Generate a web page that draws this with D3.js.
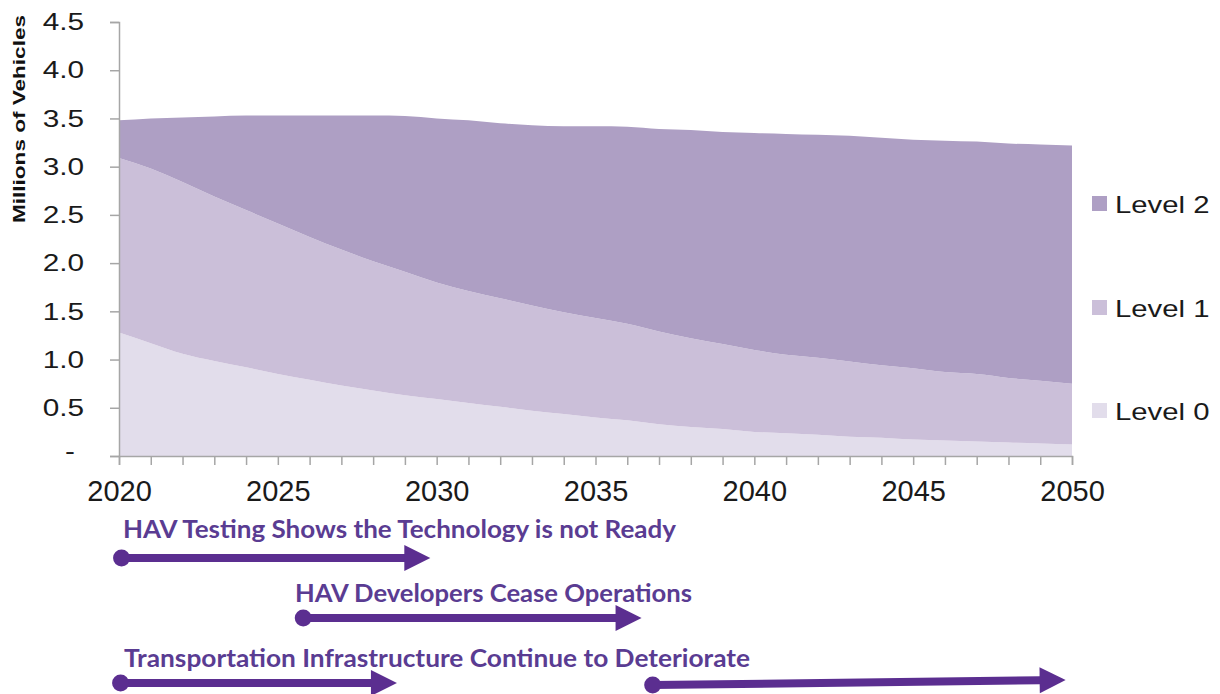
<!DOCTYPE html>
<html>
<head>
<meta charset="utf-8">
<script src="https://cdn.jsdelivr.net/npm/d3@7"></script>
<style>
  html, body { margin: 0; padding: 0; background: #ffffff; }
  svg { display: block; }
</style>
</head>
<body>
<svg id="chart" width="1220" height="694"></svg>
<script>
// Fleet composition by automation level, millions of vehicles
const years = [2020, 2021, 2022, 2023, 2024, 2025, 2026, 2027, 2028, 2029,
               2030, 2031, 2032, 2033, 2034, 2035, 2036, 2037, 2038, 2039,
               2040, 2041, 2042, 2043, 2044, 2045, 2046, 2047, 2048, 2049, 2050];

const level0 = [1.28, 1.17, 1.06, 0.985, 0.92, 0.85, 0.79, 0.73, 0.68, 0.63,
                0.59, 0.55, 0.51, 0.47, 0.435, 0.40, 0.37, 0.33, 0.30, 0.28,
                0.25, 0.235, 0.22, 0.20, 0.19, 0.17, 0.16, 0.15, 0.14, 0.13, 0.12];

const level1 = [1.81, 1.81, 1.78, 1.705, 1.63, 1.56, 1.48, 1.41, 1.34, 1.28,
                1.21, 1.16, 1.125, 1.09, 1.055, 1.03, 1.00, 0.96, 0.92, 0.88,
                0.85, 0.815, 0.80, 0.78, 0.75, 0.74, 0.71, 0.70, 0.67, 0.65, 0.63];

const level2 = [0.39, 0.52, 0.67, 0.83, 0.98, 1.12, 1.26, 1.39, 1.51, 1.615,
                1.70, 1.77, 1.815, 1.87, 1.93, 1.99, 2.045, 2.10, 2.16, 2.20,
                2.25, 2.29, 2.31, 2.34, 2.36, 2.37, 2.40, 2.41, 2.43, 2.45, 2.47];

const seriesNames = ["Level 0", "Level 1", "Level 2"];
const yTicks = [0, 0.5, 1.0, 1.5, 2.0, 2.5, 3.0, 3.5, 4.0, 4.5];
const xLabelYears = [2020, 2025, 2030, 2035, 2040, 2045, 2050];

// Timeline of scenario events (start year, end year)
const events = [
  { text: "HAV Testing Shows the Technology is not Ready", from: 2020.08, to: 2029.8 },
  { text: "HAV Developers Cease Operations", from: 2025.8, to: 2036.45 },
  { text: "Transportation Infrastructure Continue to Deteriorate", from: 2020.05, to: 2028.75 },
  { text: null, from: 2036.8, to: 2049.8 }
];

const colors = { "Level 0": "#e2ddeb", "Level 1": "#cbbfd9", "Level 2": "#ae9fc4" };
const arrowColor = "#5b2e90";
const eventTextColor = "#5a3c92";

const svg = d3.select("#chart");

const x = d3.scaleLinear().domain([2020, 2050]).range([119, 1072]);
const y = d3.scaleLinear().domain([0, 4.5]).range([456, 22]);

// stacked areas
const rows = years.map((yr, i) => ({
  year: yr, "Level 0": level0[i], "Level 1": level1[i], "Level 2": level2[i]
}));
const stacked = d3.stack().keys(seriesNames)(rows);

const area = d3.area()
  .x(d => x(d.data.year))
  .y0(d => y(d[0]))
  .y1(d => y(d[1]))
  .curve(d3.curveMonotoneX);

svg.append("g")
  .selectAll("path")
  .data(stacked)
  .join("path")
  .attr("d", area)
  .attr("fill", d => colors[d.key]);

// stretch text horizontally by a factor
function widen(sel, k) {
  sel.each(function () {
    const w = this.getComputedTextLength();
    d3.select(this).attr("textLength", w * k).attr("lengthAdjust", "spacingAndGlyphs");
  });
}

// y axis
const yAxis = d3.axisLeft(y)
  .tickValues(yTicks)
  .tickSize(9)
  .tickPadding(26)
  .tickFormat(d => d === 0 ? "-" : d3.format(".1f")(d));

const gy = svg.append("g").attr("transform", `translate(${x(2020)},0)`).call(yAxis);
gy.select(".domain").attr("stroke", "#a6a6a6").attr("stroke-width", 1.5);
gy.selectAll(".tick line").attr("stroke", "#a6a6a6").attr("stroke-width", 1.5);
gy.selectAll(".tick text")
  .attr("font-family", "'Liberation Sans', Arial, sans-serif")
  .attr("font-size", 24)
  .attr("fill", "#1a1a1a")
  .call(widen, 1.24);
gy.selectAll(".tick text").filter(d => d === 0).attr("dx", -9).attr("dy", "0.1em");

// x axis: yearly ticks, labels every five years
const xAxis = d3.axisBottom(x)
  .tickValues(years)
  .tickSize(9)
  .tickPadding(15)
  .tickFormat(d => xLabelYears.includes(d) ? String(d) : "");

const gx = svg.append("g").attr("transform", `translate(0,${y(0)})`).call(xAxis);
gx.select(".domain").attr("stroke", "#a6a6a6").attr("stroke-width", 1.5);
gx.selectAll(".tick line").attr("stroke", "#a6a6a6").attr("stroke-width", 1.5);
gx.selectAll(".tick text")
  .attr("font-family", "'Liberation Sans', Arial, sans-serif")
  .attr("font-size", 29)
  .attr("fill", "#1a1a1a");

// y axis title
svg.append("text")
  .attr("transform", "translate(25,119) rotate(-90)")
  .attr("text-anchor", "middle")
  .attr("font-family", "'Liberation Sans', Arial, sans-serif")
  .attr("font-weight", "bold")
  .attr("font-size", 17)
  .attr("fill", "#111")
  .attr("textLength", 208)
  .attr("lengthAdjust", "spacingAndGlyphs")
  .text("Millions of Vehicles");

// legend
const legendY = { "Level 2": 204, "Level 1": 308, "Level 0": 411 };
const legend = svg.append("g")
  .selectAll("g")
  .data(seriesNames.slice().reverse())
  .join("g")
  .attr("transform", d => `translate(1092,${legendY[d]})`);
legend.append("rect")
  .attr("x", 0).attr("y", -8)
  .attr("width", 15).attr("height", 15)
  .attr("fill", d => colors[d]);
legend.append("text")
  .attr("x", 23).attr("y", 9)
  .attr("font-family", "'Liberation Sans', Arial, sans-serif")
  .attr("font-size", 24)
  .attr("fill", "#1a1a1a")
  .text(d => d)
  .call(widen, 1.22);

// event timeline
const rowY = [558, 618, 683, 683];
const labelLayout = [
  { x: 123, y: 538, w: 553 },
  { x: 295, y: 602, w: 397 },
  { x: 124, y: 667, w: 626 },
  null
];

const tl = svg.append("g");
events.forEach((ev, i) => {
  const x0 = x(ev.from), x1 = x(ev.to);
  const y0 = rowY[i] + (i === 3 ? 2 : 0);
  const y1 = rowY[i] - (i === 3 ? 3 : 0);
  const headLen = 26, headHalf = 13;
  const ang = Math.atan2(y1 - y0, x1 - x0);
  const bx = x1 - headLen * Math.cos(ang), by = y1 - headLen * Math.sin(ang);

  tl.append("line")
    .attr("x1", x0).attr("y1", y0)
    .attr("x2", bx + 1).attr("y2", by)
    .attr("stroke", arrowColor)
    .attr("stroke-width", 8);
  tl.append("path")
    .attr("d", `M${x1},${y1} L${bx - headHalf * Math.sin(ang)},${by + headHalf * Math.cos(ang)} L${bx + headHalf * Math.sin(ang)},${by - headHalf * Math.cos(ang)} Z`)
    .attr("fill", arrowColor);
  tl.append("circle")
    .attr("cx", x0).attr("cy", y0).attr("r", 8.5)
    .attr("fill", arrowColor);

  const lay = labelLayout[i];
  if (ev.text && lay) {
    tl.append("text")
      .attr("x", lay.x).attr("y", lay.y)
      .attr("font-family", "Lato, 'Open Sans', sans-serif")
      .attr("font-weight", "bold")
      .attr("font-size", 25)
      .attr("fill", eventTextColor)
      .attr("textLength", lay.w)
      .attr("lengthAdjust", "spacingAndGlyphs")
      .text(ev.text);
  }
});
</script>
</body>
</html>
